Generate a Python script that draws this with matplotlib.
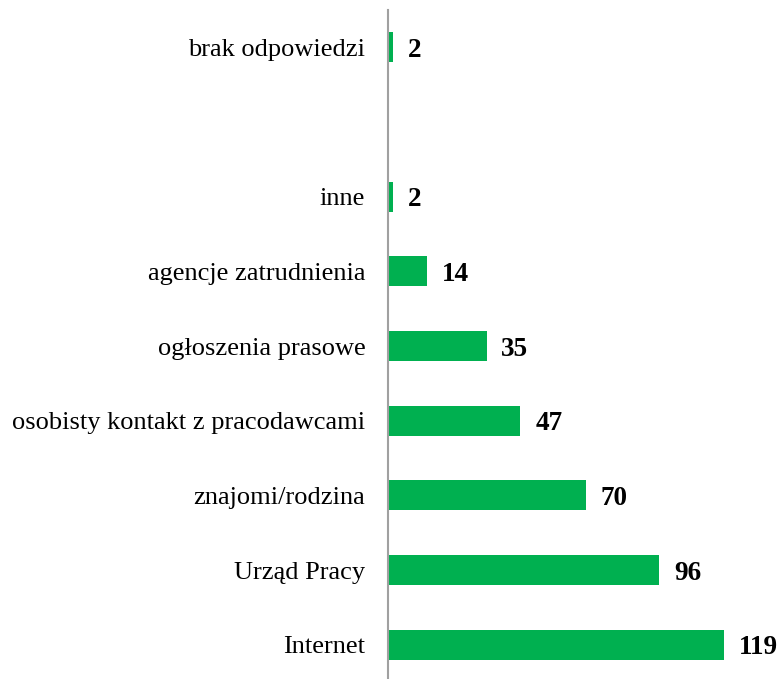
import matplotlib
matplotlib.use('Agg')
import matplotlib.pyplot as plt

# top-to-bottom order as in the reference; '' is the empty gap slot
categories = ['brak odpowiedzi', '', 'inne', 'agencje zatrudnienia', 'ogłoszenia prasowe',
              'osobisty kontakt z pracodawcami', 'znajomi/rodzina', 'Urząd Pracy', 'Internet']
values = [2, None, 2, 14, 35, 47, 70, 96, 119]

plt.rcParams['font.family'] = ['Liberation Serif', 'DejaVu Serif']

fig = plt.figure(figsize=(7.78, 6.79), dpi=100)
ax = fig.add_axes([387.5 / 778, -3 / 679, 1 - 387.5 / 778, 672 / 679])

ypos = list(range(len(categories)))
for y, v in zip(ypos, values):
    if v is None:
        continue
    ax.barh(y, v, height=0.4, color='#00B050')
    ax.text(v + 5.2, y, str(v), va='center_baseline', ha='left', fontsize=19.5, fontweight='bold')

ax.set_yticks(ypos)
ax.set_yticklabels(categories, fontsize=19)
ax.tick_params(axis='y', length=0, pad=16)
ax.set_ylim(len(categories) - 0.5, -0.5)
ax.set_xlim(0, 138)
ax.set_xticks([])

for side in ['top', 'right', 'bottom']:
    ax.spines[side].set_visible(False)
ax.spines['left'].set_color('#A0A0A0')
ax.spines['left'].set_linewidth(1.5)

fig.savefig('out.png', dpi=100)
